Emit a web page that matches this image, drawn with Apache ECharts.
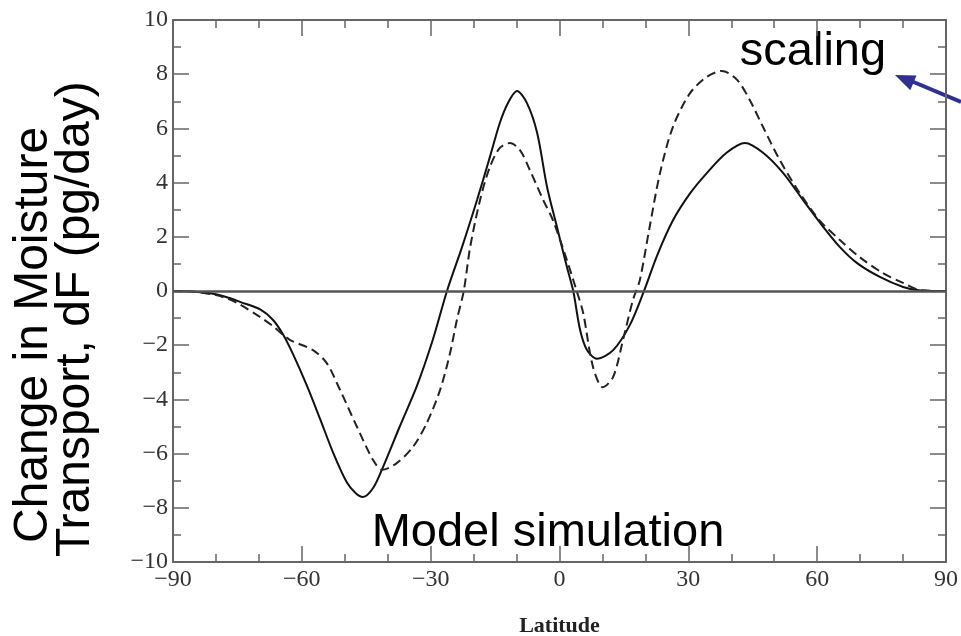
<!DOCTYPE html>
<html>
<head>
<meta charset="utf-8">
<script src="https://cdn.jsdelivr.net/npm/echarts@6/dist/echarts.min.js"></script>
<style>
html,body{margin:0;padding:0;background:#fff;}
#chart{width:961px;height:636px;}
</style>
</head>
<body>
<div id="chart"></div>
<script>
// Latitude (deg) and change in moisture transport dF (pg/day)
const solidLat = [-90,-85,-80,-77,-74.4,-69.7,-66.7,-64.4,-62,-58.8,-55.8,-52.7,-49.5,-47.5,-45.8,-43.4,-41.1,-37.2,-33.2,-29.5,-26.2,-22.7,-19.2,-16.2,-13.9,-12,-9.9,-7.6,-5.2,-2.9,-0.6,1.7,3.2,4.8,6.4,8.7,12.5,16.4,19.8,22.7,26.4,30.4,34.3,38.9,43.2,47.4,52.1,56.7,61.4,65.3,69.3,74.6,80,84,90];
const solidVal = [0,-0.03,-0.12,-0.25,-0.4,-0.68,-1.07,-1.6,-2.35,-3.5,-4.7,-5.97,-7.07,-7.45,-7.6,-7.27,-6.5,-5.0,-3.5,-1.8,0,1.62,3.36,4.95,6.2,6.94,7.38,6.94,5.83,3.84,2.37,0.9,0,-1.44,-2.18,-2.5,-2.18,-1.25,0.05,1.3,2.6,3.6,4.35,5.1,5.46,5.1,4.35,3.36,2.37,1.62,1.03,0.52,0.15,0.02,0];

const dashLat = [-90,-85,-80,-77,-74.4,-69.7,-66.7,-62.8,-57.4,-54.2,-51.1,-47.2,-43.4,-41.3,-37.9,-34.1,-30.9,-27.8,-25.5,-23.9,-22.3,-20.8,-18.5,-16.2,-13.9,-11.5,-9.2,-6.9,-3.8,-1.5,1.7,4,5.5,7.8,10.1,12.5,14.8,17.1,18.7,21,23.4,26.4,30.4,34.3,37.8,41.3,44.3,47.4,51.3,56,60.6,65.3,69.9,75.3,80,84,90];
const dashVal = [0,-0.03,-0.15,-0.3,-0.5,-0.96,-1.3,-1.8,-2.18,-2.66,-3.65,-5.0,-6.24,-6.6,-6.35,-5.75,-4.87,-3.65,-2.3,-1.07,0,1.62,3.36,4.58,5.28,5.46,5.2,4.46,3.36,2.6,1.15,0,-0.8,-2.8,-3.55,-3.17,-1.8,-0.33,0.4,2.37,4.35,6.05,7.3,7.9,8.12,7.8,7.05,6.05,4.83,3.6,2.6,1.88,1.25,0.66,0.3,0.03,0];

const xTicks = [-90,-60,-30,0,30,60,90];
const yTicks = [-10,-8,-6,-4,-2,0,2,4,6,8,10];

const yTitle = ['Change in Moisture','Transport, dF (pg/day)'];
const noteScaling = 'scaling';
const noteModel = 'Model simulation';
const xTitle = 'Latitude';

const chart = echarts.init(document.getElementById('chart'), null, {renderer:'canvas'});
const fmt = v => String(v).replace('-', '\u2212');
const axisGray = '#666';
const labelFont = {fontFamily:'Liberation Serif', fontSize:24, color:'#333'};

const option = {
  backgroundColor:'#fff',
  animation:false,
  grid:{left:173, right:15, top:20, bottom:74, containLabel:false, outerBoundsMode:'none'},
  xAxis:[{
    type:'value', min:-90, max:90, interval:30,
    axisLine:{show:true, onZero:false, lineStyle:{color:axisGray, width:2}},
    axisTick:{show:true, inside:true, length:16, lineStyle:{color:axisGray, width:1.5}},
    minorTick:{show:true, splitNumber:3, length:8, lineStyle:{color:axisGray, width:1.5}},
    splitLine:{show:false},
    axisLabel:Object.assign({margin:6, formatter:fmt, customValues:xTicks}, labelFont),
    name:xTitle, nameLocation:'middle', nameGap:53,
    nameTextStyle:{fontFamily:'Liberation Serif', fontSize:22, fontWeight:'bold', color:'#222'}
  },{
    type:'value', position:'top', min:-90, max:90, interval:30,
    axisLine:{show:true, onZero:false, lineStyle:{color:axisGray, width:2}},
    axisTick:{show:true, inside:true, length:16, lineStyle:{color:axisGray, width:1.5}},
    minorTick:{show:true, splitNumber:3, length:8, lineStyle:{color:axisGray, width:1.5}},
    splitLine:{show:false}, axisLabel:{show:false}
  }],
  yAxis:[{
    type:'value', min:-10, max:10, interval:2,
    axisLine:{show:true, onZero:false, lineStyle:{color:axisGray, width:2}},
    axisTick:{show:true, inside:true, length:16, lineStyle:{color:axisGray, width:1.5}},
    minorTick:{show:true, splitNumber:2, length:8, lineStyle:{color:axisGray, width:1.5}},
    splitLine:{show:false},
    axisLabel:Object.assign({margin:5, formatter:fmt, customValues:yTicks}, labelFont)
  },{
    type:'value', position:'right', min:-10, max:10, interval:2,
    axisLine:{show:true, onZero:false, lineStyle:{color:axisGray, width:2}},
    axisTick:{show:true, inside:true, length:16, lineStyle:{color:axisGray, width:1.5}},
    minorTick:{show:true, splitNumber:2, length:8, lineStyle:{color:axisGray, width:1.5}},
    splitLine:{show:false}, axisLabel:{show:false}
  }],
  series:[{
    name:'model', type:'line', xAxisIndex:0, yAxisIndex:0,
    data: solidLat.map((x,i)=>[x, solidVal[i]]),
    showSymbol:false, smooth:0.3,
    lineStyle:{color:'#111', width:2},
    markLine:{silent:true, symbol:['none','none'], label:{show:false},
      lineStyle:{color:'#555', width:2.5, type:'solid'},
      data:[{yAxis:0}]}
  },{
    name:'scaling', type:'line', xAxisIndex:0, yAxisIndex:0,
    data: dashLat.map((x,i)=>[x, dashVal[i]]),
    showSymbol:false, smooth:0.3,
    lineStyle:{color:'#222', width:2, type:[9,5]}
  }],
  graphic:[{
    type:'text', x:34, y:543, rotation:Math.PI/2,
    style:{text:yTitle[0], fontFamily:'Liberation Sans', fontSize:48,
      fill:'#000', align:'left', verticalAlign:'middle'}
  },{
    type:'text', x:76, y:557, rotation:Math.PI/2,
    style:{text:yTitle[1], fontFamily:'Liberation Sans', fontSize:48,
      fill:'#000', align:'left', verticalAlign:'middle'}
  },{
    type:'text', x:813, y:52,
    style:{text:noteScaling, fontFamily:'Liberation Sans', fontSize:47, fill:'#000',
      align:'center', verticalAlign:'middle'}
  },{
    type:'text', x:548, y:533,
    style:{text:noteModel, fontFamily:'Liberation Sans', fontSize:47, fill:'#000',
      align:'center', verticalAlign:'middle'}
  },{
    type:'line', shape:{x1:961, y1:102, x2:910, y2:80.5},
    style:{stroke:'#2E3192', lineWidth:4}
  },{
    type:'polygon', shape:{points:[[895,75],[916.5,75.4],[910.3,90.2]]},
    style:{fill:'#2E3192'}
  }]
};
chart.setOption(option);
</script>
</body>
</html>
